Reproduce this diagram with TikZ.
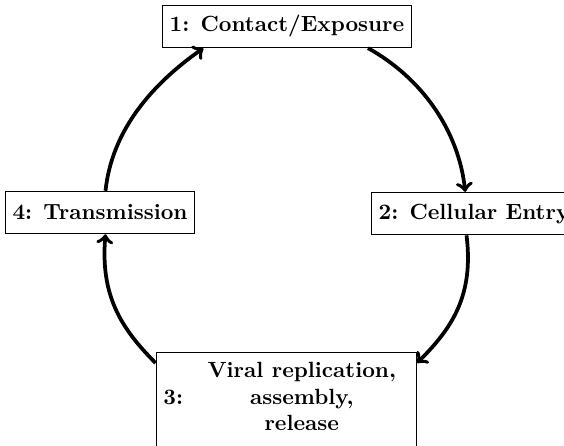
\documentclass[tikz,border=0pt]{standalone}
\usetikzlibrary{arrows}
\begin{document}
\begin{tikzpicture}[
  stagebox/.style={draw, line width=0.45pt, font=\bfseries, inner sep=0.333em},
  flatbox/.style={stagebox, minimum height=19.3pt},
  cyclearrow/.style={->, line width=1.7pt}
]
\useasboundingbox (-130.45pt,-105.7pt) rectangle (125.9pt,96.6pt);
\node[flatbox] (n1) at (0pt,84.6pt) {1: Contact/Exposure};
\node[flatbox] (n2) at (85pt,-0.5pt) {2: Cellular Entry};
\node[stagebox] (n3) at (-0.3pt,-84.8pt) {3: \begin{tabular}{c}Viral replication,\\ assembly,\\ release\end{tabular}};
\node[flatbox] (n4) at (-85pt,0pt) {4: Transmission};

\draw[cyclearrow] ([xshift=36.8pt]n1.south) .. controls +(-29:28pt) and +(96:28pt) .. ([xshift=-4pt]n2.north);
\draw[cyclearrow] ([xshift=-3.4pt]n2.south) .. controls +(-83:28pt) and +(45:22pt) .. ([yshift=16.4pt]n3.east);
\draw[cyclearrow] ([yshift=16.4pt]n3.west) .. controls +(135:22pt) and +(-95:28pt) .. ([xshift=2.5pt]n4.south);
\draw[cyclearrow] ([xshift=2.5pt]n4.north) .. controls +(84:28pt) and +(-145:28pt) .. ([xshift=-38pt]n1.south);
\end{tikzpicture}
\end{document}
